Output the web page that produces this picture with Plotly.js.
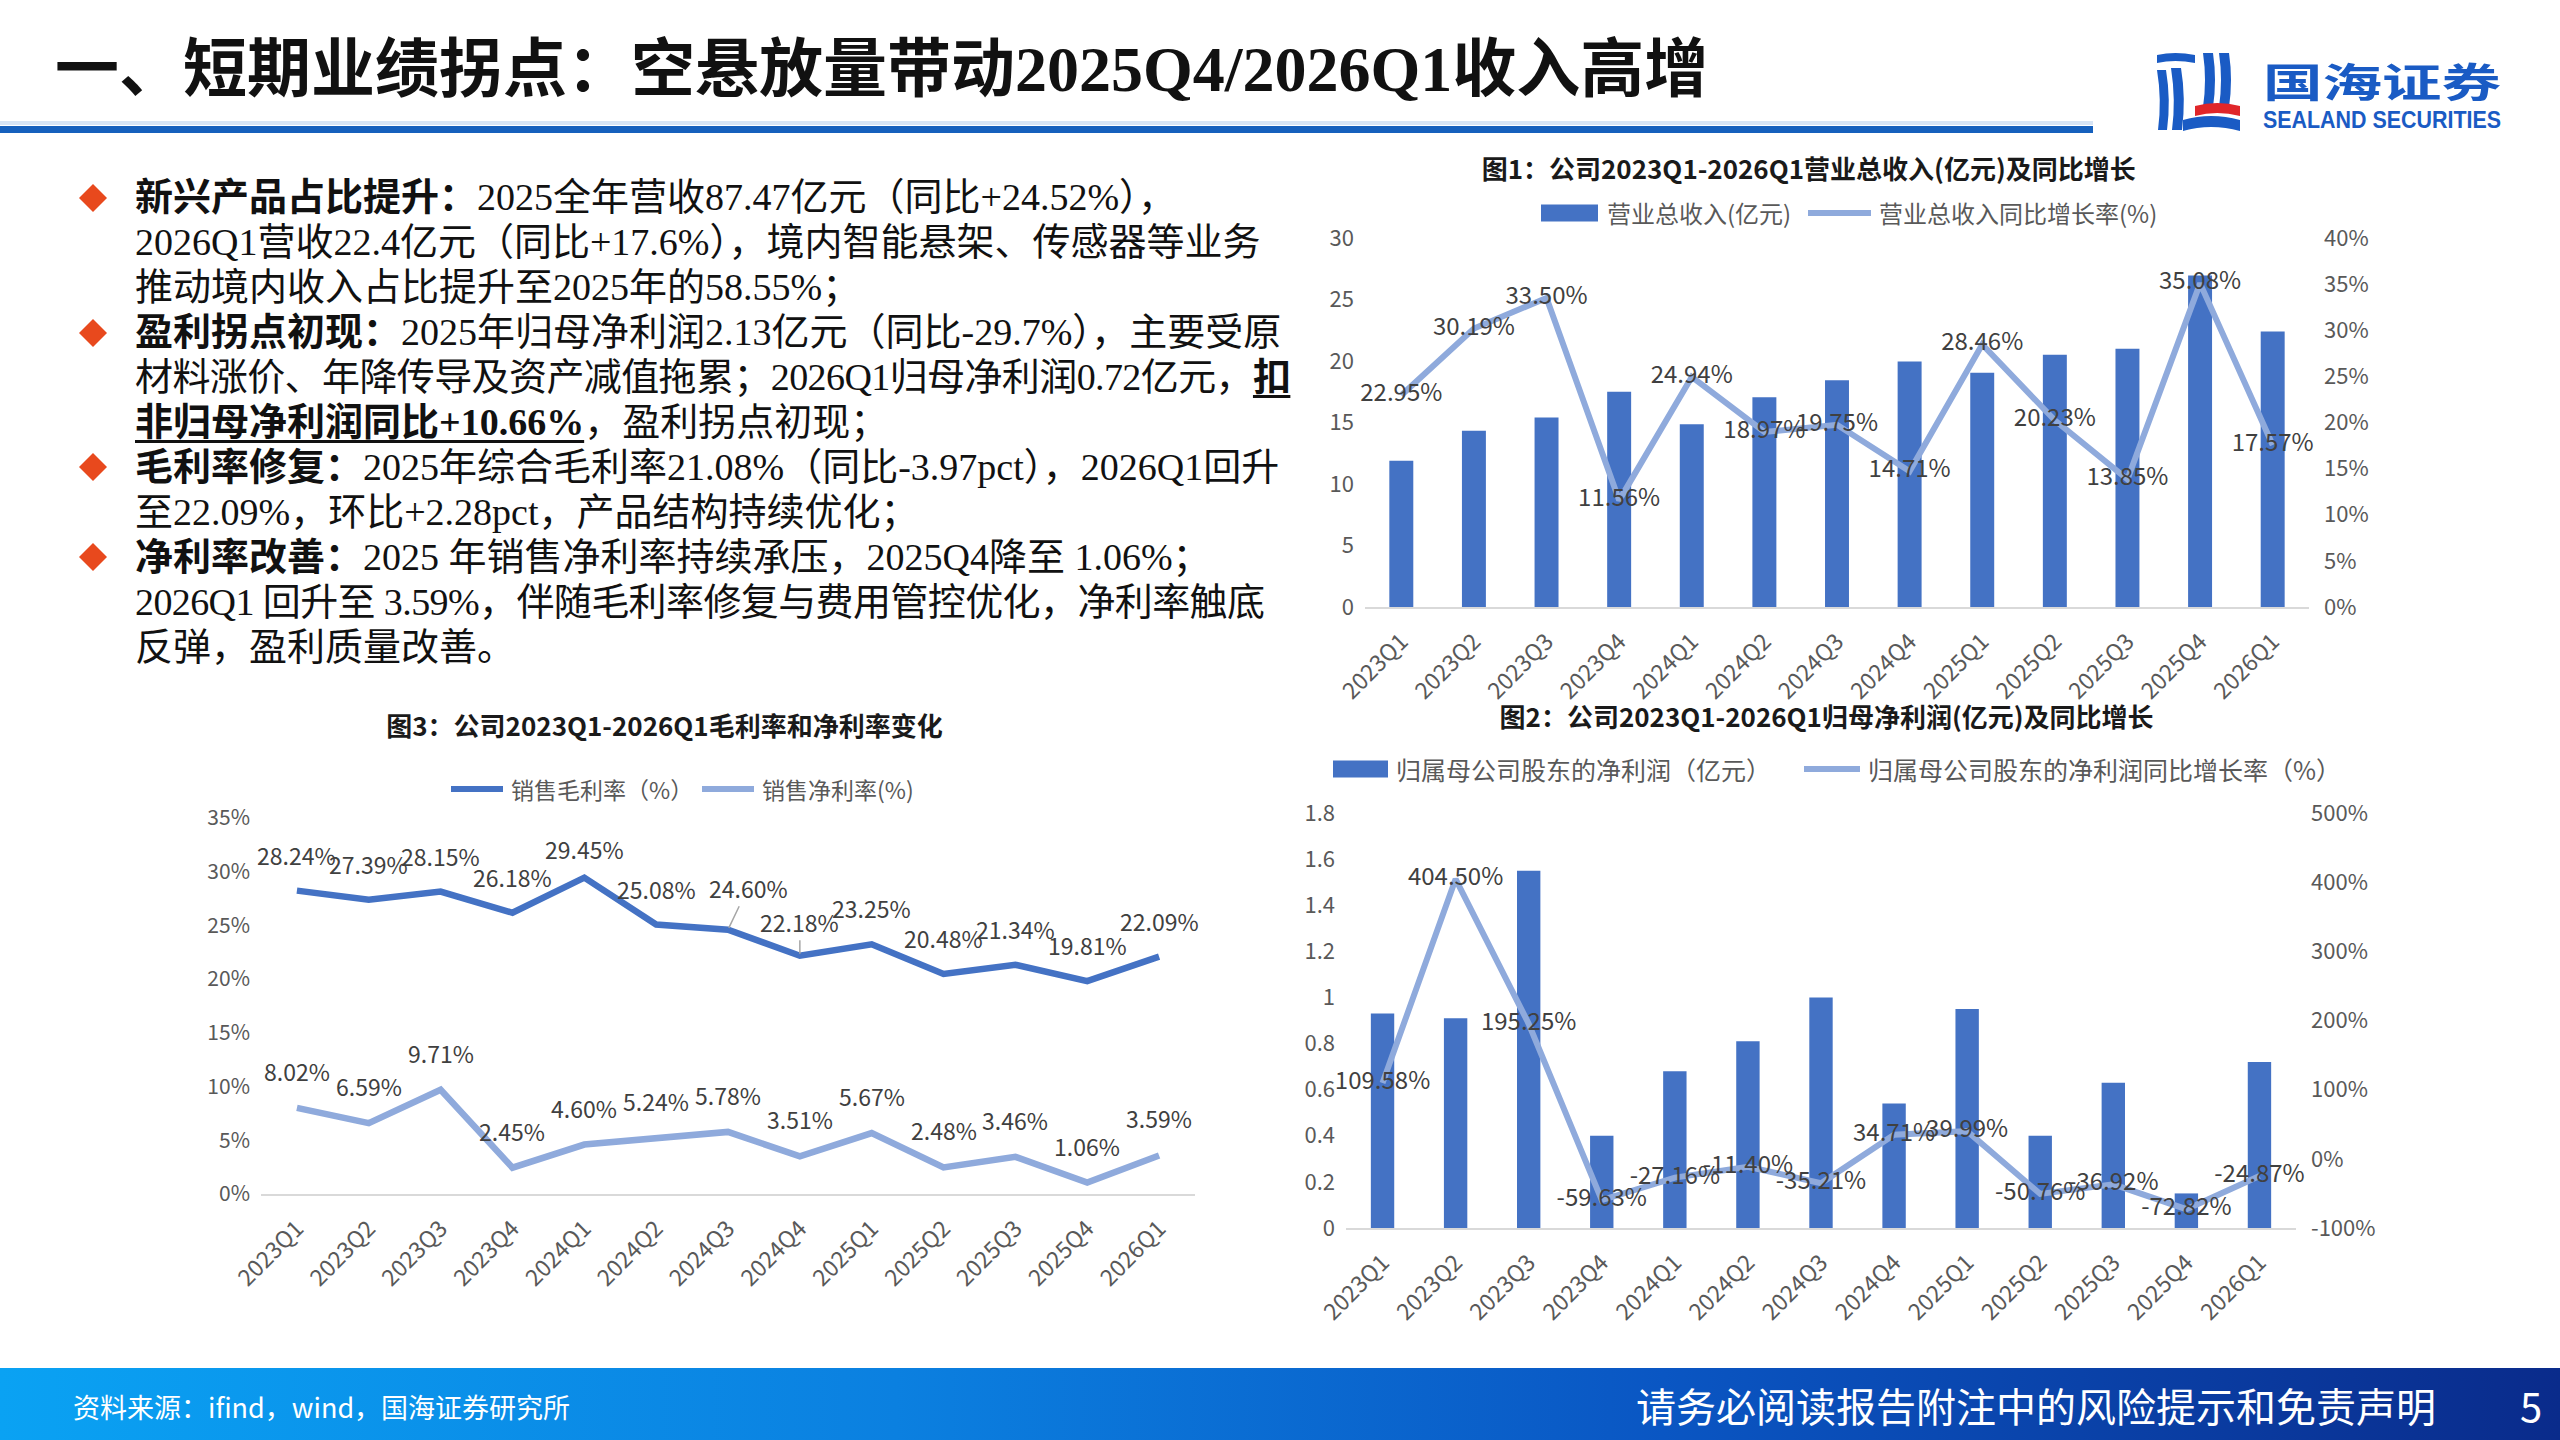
<!DOCTYPE html>
<html>
<head>
<meta charset="utf-8">
<script src="https://cdn.plot.ly/plotly-3.0.1.min.js"></script>
<style>
html,body{margin:0;padding:0;background:#fff;}
#page{position:relative;width:2560px;height:1440px;overflow:hidden;background:#fff;font-family:"Liberation Serif","Noto Sans CJK SC",serif;color:#111;}
#hdr{position:absolute;left:55px;top:30px;height:80px;line-height:80px;font-size:64px;font-weight:700;white-space:nowrap;color:#111;}
#hline{position:absolute;left:0;top:126px;width:2093px;height:7px;background:#1560bd;}
#hline2{position:absolute;left:0;top:121px;width:2093px;height:4px;background:#d6e4f5;}
#txt{position:absolute;left:135px;top:175px;font-size:38px;line-height:45px;white-space:nowrap;color:#111;}
#txt b{font-weight:700;}
.tight{letter-spacing:-0.6px;}
.u{text-decoration:underline;text-underline-offset:5px;text-decoration-thickness:3px;}
.bul{position:absolute;left:79px;width:28px;height:28px;}
#footer{position:absolute;left:0;top:1368px;width:2560px;height:72px;background:linear-gradient(90deg,#0aa2f3 0%,#0b80e0 35%,#0a56c3 65%,#0a2b8b 100%);}
.ft{position:absolute;color:#fff;font-family:"Noto Sans CJK SC","Noto Sans",sans-serif;white-space:nowrap;}
.chart{position:absolute;}
</style>
</head>
<body>
<div id="page">
  <div id="hdr">一、短期业绩拐点：空悬放量带动2025Q4/2026Q1收入高增</div>
  <div id="hline2"></div>
  <div id="hline"></div>

  <svg style="position:absolute;left:0;top:0" width="2560" height="150">
    <g fill="#1a5bc4">
      <path d="M2157 55 q18 -4 38 0 v8 q-20 -4 -38 0z"/>
      <path d="M2157 70 q5 30 1 60 h9 q4 -30 -1 -60z"/>
      <path d="M2171 68 q5 32 1 62 h10 q4 -32 -1 -62z"/>
      <path d="M2203 53 q4 27 0 54 h10 q4 -27 0 -54z"/>
      <path d="M2219 53 q4 27 0 54 h10 q4 -27 0 -54z"/>
      <path d="M2183 120 q28 -8 57 0 v11 q-29 -8 -57 0z"/>
    </g>
    <path d="M2195 106 q22 -6 45 0 v10 q-23 -6 -45 0z" fill="#e0262a"/>
    <text x="2263" y="97" font-family="Noto Sans CJK SC" font-weight="700" font-size="40" fill="#1a5bc4" textLength="238" lengthAdjust="spacingAndGlyphs">国海证券</text>
    <text x="2263" y="128" font-family="Liberation Sans" font-weight="700" font-size="23" fill="#1a5bc4" textLength="238" lengthAdjust="spacingAndGlyphs">SEALAND SECURITIES</text>
  </svg>

  <svg class="bul" style="top:184px" viewBox="0 0 28 28"><polygon points="14,0 28,14 14,28 0,14" fill="#e8491d"/></svg>
  <svg class="bul" style="top:319px" viewBox="0 0 28 28"><polygon points="14,0 28,14 14,28 0,14" fill="#e8491d"/></svg>
  <svg class="bul" style="top:453px" viewBox="0 0 28 28"><polygon points="14,0 28,14 14,28 0,14" fill="#e8491d"/></svg>
  <svg class="bul" style="top:543px" viewBox="0 0 28 28"><polygon points="14,0 28,14 14,28 0,14" fill="#e8491d"/></svg>

  <div id="txt">
    <div><b>新兴产品占比提升：</b>2025全年营收87.47亿元（同比+24.52%），</div>
    <div>2026Q1营收22.4亿元（同比+17.6%），境内智能悬架、传感器等业务</div>
    <div>推动境内收入占比提升至2025年的58.55%；</div>
    <div><b>盈利拐点初现：</b>2025年归母净利润2.13亿元（同比-29.7%），主要受原</div>
    <div class="tight">材料涨价、年降传导及资产减值拖累；2026Q1归母净利润0.72亿元，<b class="u">扣</b></div>
    <div><b class="u">非归母净利润同比+10.66%</b>，盈利拐点初现；</div>
    <div><b>毛利率修复：</b>2025年综合毛利率21.08%（同比-3.97pct），2026Q1回升</div>
    <div>至22.09%，环比+2.28pct，产品结构持续优化；</div>
    <div><b>净利率改善：</b>2025 年销售净利率持续承压，2025Q4降至 1.06%；</div>
    <div class="tight">2026Q1 回升至 3.59%，伴随毛利率修复与费用管控优化，净利率触底</div>
    <div>反弹，盈利质量改善。</div>
  </div>

  <div id="c1" class="chart" style="left:1290px;top:140px;width:1140px;height:580px;"></div>
  <div id="c2" class="chart" style="left:1270px;top:690px;width:1150px;height:640px;"></div>
  <div id="c3" class="chart" style="left:140px;top:700px;width:1110px;height:620px;"></div>

  <div id="footer"></div>
  <div class="ft" style="left:73px;top:1388px;font-size:27px;line-height:38px;">资料来源：ifind，wind，国海证券研究所</div>
  <div class="ft" style="left:1636px;top:1380px;font-size:40px;line-height:50px;">请务必阅读报告附注中的风险提示和免责声明</div>
  <div class="ft" style="left:2520px;top:1380px;font-size:40px;line-height:50px;">5</div>
</div>

<script>
// ---------- data ----------
const quarters = ['2023Q1','2023Q2','2023Q3','2023Q4','2024Q1','2024Q2','2024Q3','2024Q4','2025Q1','2025Q2','2025Q3','2025Q4','2026Q1'];
const revenue = [11.89, 14.33, 15.40, 17.49, 14.85, 17.05, 18.44, 19.95, 19.05, 20.50, 21.00, 26.95, 22.40];
const revenueYoY = [22.95, 30.19, 33.50, 11.56, 24.94, 18.97, 19.75, 14.71, 28.46, 20.23, 13.85, 35.08, 17.57];
const netProfit = [0.93, 0.91, 1.55, 0.40, 0.68, 0.81, 1.00, 0.54, 0.95, 0.40, 0.63, 0.15, 0.72];
const netProfitYoY = [109.58, 404.50, 195.25, -59.63, -27.16, -11.40, -35.21, 34.71, 39.99, -50.76, -36.92, -72.82, -24.87];
const grossMargin = [28.24, 27.39, 28.15, 26.18, 29.45, 25.08, 24.60, 22.18, 23.25, 20.48, 21.34, 19.81, 22.09];
const netMargin = [8.02, 6.59, 9.71, 2.45, 4.60, 5.24, 5.78, 3.51, 5.67, 2.48, 3.46, 1.06, 3.59];
const profitYoYTicks = [-100, 0, 100, 200, 300, 400, 500];
const names1 = ['营业总收入(亿元)', '营业总收入同比增长率(%)'];
const names2 = ['归属母公司股东的净利润（亿元）', '归属母公司股东的净利润同比增长率（%）'];
const names3 = ['销售毛利率（%）', '销售净利率(%)'];

// ---------- styles ----------
const FF = '"Noto Sans CJK SC","Noto Sans",sans-serif';
const BAR = '#4472c4', LIGHT = '#8faadc', AX = '#595959', LBL = '#404040';
const pct = v => v.toFixed(2) + '%';
const cfg = {staticPlot: true, displayModeBar: false};

function baseX() {
  return {type: 'category', range: [-0.5, 12.5], tickangle: -45, showline: true, linecolor: '#d9d9d9', linewidth: 2,
    ticks: '', showgrid: false, zeroline: false, automargin: false, tickfont: {size: 23, color: AX}, ticklabelstandoff: 10};
}

// custom legend (page-pixel layout converted to paper coords of a plot area)
function legend(plot, yc, items, fontSize) {
  const px = X => (X - plot.l) / plot.w;
  const py = Y => (plot.t + plot.h - Y) / plot.h;
  const shapes = [], anns = [];
  items.forEach(it => {
    if (it.kind === 'rect') {
      shapes.push({type: 'rect', xref: 'paper', yref: 'paper', x0: px(it.x0), x1: px(it.x1), y0: py(yc + 8.5), y1: py(yc - 8.5),
        fillcolor: it.color, line: {width: 0}});
    } else {
      shapes.push({type: 'line', xref: 'paper', yref: 'paper', x0: px(it.x0), x1: px(it.x1), y0: py(yc), y1: py(yc),
        line: {color: it.color, width: 6}});
    }
    anns.push({xref: 'paper', yref: 'paper', x: px(it.tx), y: py(yc), xanchor: 'left', yanchor: 'middle', showarrow: false,
      text: it.text, font: {size: fontSize, color: AX, family: FF}});
  });
  return {shapes, anns};
}

// ---------- chart 1 ----------
const p1 = {l: 1365, t: 238, w: 944, h: 369};
const lg1 = legend(p1, 213, [
  {kind: 'rect', x0: 1541, x1: 1598, tx: 1605, color: BAR, text: names1[0]},
  {kind: 'line', x0: 1808, x1: 1871, tx: 1877, color: LIGHT, text: names1[1]}
], 24);
Plotly.newPlot('c1', [
  {type: 'bar', x: quarters, y: revenue, name: names1[0], marker: {color: BAR}},
  {type: 'scatter', mode: 'lines+text', x: quarters, y: revenueYoY, yaxis: 'y2', name: names1[1], cliponaxis: false,
   line: {color: LIGHT, width: 6}, text: revenueYoY.map(pct), textposition: 'middle center',
   textfont: {size: 24, color: LBL, family: FF}}
], {
  width: 1140, height: 580, margin: {l: 75, r: 121, t: 98, b: 113},
  paper_bgcolor: 'rgba(0,0,0,0)', plot_bgcolor: 'rgba(0,0,0,0)',
  font: {family: FF, color: AX, size: 22},
  title: {text: '<b>图1：公司2023Q1-2026Q1营业总收入(亿元)及同比增长</b>', font: {size: 26, color: '#1a1a1a', family: FF},
    x: 0.455, xref: 'container', xanchor: 'center', y: 1 - 30 / 580, yref: 'container', yanchor: 'middle'},
  bargap: 0.67, showlegend: false,
  xaxis: baseX(),
  yaxis: {range: [0, 30], dtick: 5, showgrid: false, zeroline: false, showline: false, ticks: '', automargin: false,
    tickfont: {size: 22, color: AX}, ticklabelstandoff: 10},
  yaxis2: {range: [0, 40], dtick: 5, ticksuffix: '%', overlaying: 'y', side: 'right', showgrid: false, zeroline: false,
    showline: false, ticks: '', automargin: false, tickfont: {size: 22, color: AX}, ticklabelstandoff: 14},
  shapes: lg1.shapes, annotations: lg1.anns
}, cfg);

// ---------- chart 2 ----------
const p2 = {l: 1346, t: 813, w: 950, h: 415};
const lg2 = legend(p2, 769, [
  {kind: 'rect', x0: 1333, x1: 1388, tx: 1394, color: BAR, text: names2[0]},
  {kind: 'line', x0: 1804, x1: 1860, tx: 1866, color: LIGHT, text: names2[1]}
], 25);
Plotly.newPlot('c2', [
  {type: 'bar', x: quarters, y: netProfit, name: names2[0], marker: {color: BAR}},
  {type: 'scatter', mode: 'lines+text', x: quarters, y: netProfitYoY, yaxis: 'y2', name: names2[1], cliponaxis: false,
   line: {color: LIGHT, width: 6}, text: netProfitYoY.map(pct), textposition: 'middle center',
   textfont: {size: 24, color: LBL, family: FF}}
], {
  width: 1150, height: 640, margin: {l: 76, r: 124, t: 123, b: 102},
  paper_bgcolor: 'rgba(0,0,0,0)', plot_bgcolor: 'rgba(0,0,0,0)',
  font: {family: FF, color: AX, size: 22},
  title: {text: '<b>图2：公司2023Q1-2026Q1归母净利润(亿元)及同比增长</b>', font: {size: 26, color: '#1a1a1a', family: FF},
    x: 0.484, xref: 'container', xanchor: 'center', y: 1 - 28 / 640, yref: 'container', yanchor: 'middle'},
  bargap: 0.68, showlegend: false,
  xaxis: baseX(),
  yaxis: {range: [0, 1.8], dtick: 0.2, showgrid: false, zeroline: false, showline: false, ticks: '', automargin: false,
    tickfont: {size: 22, color: AX}, ticklabelstandoff: 10},
  yaxis2: {range: [-100, 500], tickvals: profitYoYTicks, ticktext: profitYoYTicks.map(v => v + '%'), overlaying: 'y', side: 'right',
    showgrid: false, zeroline: false, showline: false, ticks: '', automargin: false, tickfont: {size: 22, color: AX}, ticklabelstandoff: 14},
  shapes: lg2.shapes, annotations: lg2.anns
}, cfg);

// ---------- chart 3 ----------
const p3 = {l: 261, t: 818, w: 934, h: 376};
const lg3 = legend(p3, 789, [
  {kind: 'line', x0: 451, x1: 503, tx: 509, color: BAR, text: names3[0]},
  {kind: 'line', x0: 702, x1: 754, tx: 760, color: LIGHT, text: names3[1]}
], 23);
const ann3 = [];
const labelStyle = {size: 23, color: LBL, family: FF};
grossMargin.forEach((v, i) => {
  const a = {x: quarters[i], y: v, xref: 'x', yref: 'y', text: pct(v), font: labelStyle, showarrow: false, yshift: 36};
  if (i === 4) a.yshift = 29;
  if (i === 6 || i === 7) {
    a.showarrow = true; a.arrowhead = 0; a.arrowwidth = 1.5; a.arrowcolor = '#a6a6a6'; a.standoff = 2;
    a.ax = i === 6 ? 20 : 0; a.ay = i === 6 ? -42 : -34; a.yshift = 0;
  }
  ann3.push(a);
});
netMargin.forEach((v, i) => {
  ann3.push({x: quarters[i], y: v, xref: 'x', yref: 'y', text: pct(v), font: labelStyle, showarrow: false, yshift: 37});
});

Plotly.newPlot('c3', [
  {type: 'scatter', mode: 'lines', x: quarters, y: grossMargin, name: names3[0], line: {color: BAR, width: 6.5}},
  {type: 'scatter', mode: 'lines', x: quarters, y: netMargin, name: names3[1], line: {color: LIGHT, width: 6.5}}
], {
  width: 1110, height: 620, margin: {l: 121, r: 55, t: 118, b: 126},
  paper_bgcolor: 'rgba(0,0,0,0)', plot_bgcolor: 'rgba(0,0,0,0)',
  font: {family: FF, color: AX, size: 22},
  title: {text: '<b>图3：公司2023Q1-2026Q1毛利率和净利率变化</b>', font: {size: 26, color: '#1a1a1a', family: FF},
    x: 0.4725, xref: 'container', xanchor: 'center', y: 1 - 27 / 620, yref: 'container', yanchor: 'middle'},
  showlegend: false,
  xaxis: baseX(),
  yaxis: {range: [0, 35], dtick: 5, ticksuffix: '%', showgrid: false, zeroline: false, showline: false, ticks: '', automargin: false,
    tickfont: {size: 21, color: AX}, ticklabelstandoff: 10},
  shapes: lg3.shapes,
  annotations: ann3.concat(lg3.anns)
}, cfg);
</script>
</body>
</html>
